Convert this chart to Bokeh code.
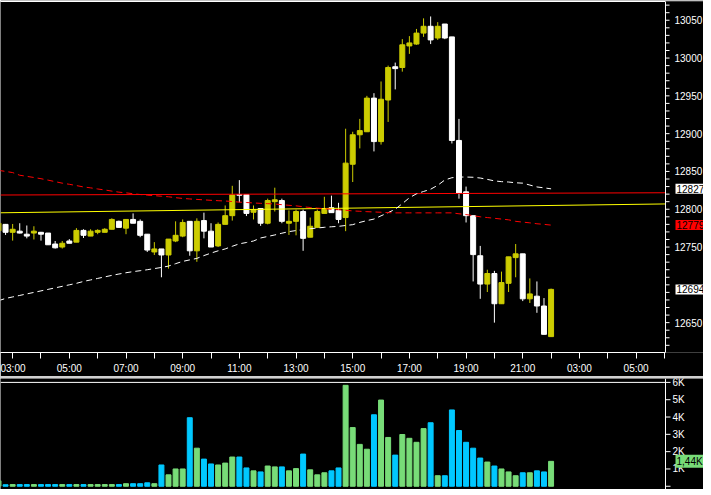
from bokeh.plotting import figure
from bokeh.layouts import column
from bokeh.models import Range1d, LinearAxis, FixedTicker, Label, Div, Span
from bokeh.core.properties import value
from bokeh.embed import file_html
from bokeh.resources import INLINE

# ---------------- data (15-minute bars, index 0 = 03:00) ----------------
bar_index = list(range(-2, 77))

opens = [12771.5, 12780.0, 12769.5, 12771.0, 12767.0, 12768.5, 12769.5, 12768.5, 12754.0, 12750.0,
         12758.0, 12756.5, 12772.0, 12764.5, 12769.5, 12769.5, 12773.5, 12784.0, 12775.0, 12786.5,
         12784.0, 12767.0, 12743.5, 12747.5, 12739.5, 12758.0, 12764.5, 12784.0, 12745.0, 12785.0,
         12771.0, 12751.5, 12780.0, 12791.5, 12819.5, 12819.5, 12796.0, 12801.0, 12781.5, 12810.0,
         12811.5, 12781.5, 12784.0, 12797.0, 12763.0, 12776.0, 12794.5, 12802.0, 12798.5, 12789.0,
         12859.5, 12898.5, 12902.5, 12947.0, 12889.5, 12944.5, 12988.5, 12987.5, 13016.0, 13018.5,
         13033.0, 13042.0, 13026.5, 13045.0, 13028.0, 12891.0, 12823.0, 12791.5, 12738.5, 12701.0,
         12715.0, 12675.0, 12702.0, 12736.0, 12741.0, 12681.5, 12685.0, 12672.0, 12631.5]

highs = [12783.0, 12780.5, 12780.5, 12781.5, 12778.5, 12777.5, 12770.0, 12768.5, 12758.0, 12758.0,
         12760.5, 12775.0, 12773.5, 12773.5, 12773.5, 12775.0, 12788.0, 12785.0, 12786.5, 12794.5,
         12786.5, 12767.0, 12756.5, 12747.5, 12760.5, 12784.0, 12786.5, 12784.0, 12788.0, 12795.5,
         12781.5, 12782.5, 12805.0, 12831.0, 12838.5, 12819.5, 12805.0, 12801.0, 12814.0, 12828.5,
         12814.0, 12798.5, 12799.5, 12799.5, 12789.0, 12799.5, 12816.5, 12818.0, 12808.5, 12906.5,
         12902.5, 12919.5, 12950.0, 12953.5, 12969.0, 12990.0, 12994.0, 13025.0, 13029.0, 13038.5,
         13052.5, 13055.0, 13047.5, 13045.0, 13028.0, 12919.5, 12830.0, 12791.5, 12751.5, 12720.0,
         12718.5, 12717.5, 12737.0, 12754.0, 12741.0, 12708.5, 12704.5, 12682.5, 12695.0]

lows = [12769.0, 12766.0, 12758.5, 12768.0, 12761.5, 12760.0, 12758.5, 12753.0, 12748.0, 12748.0,
        12755.0, 12756.5, 12762.0, 12764.5, 12767.0, 12769.5, 12773.5, 12776.0, 12767.0, 12781.5,
        12763.0, 12743.5, 12739.5, 12710.0, 12721.5, 12756.5, 12763.0, 12738.5, 12730.5, 12761.5,
        12750.0, 12750.0, 12780.0, 12785.0, 12809.0, 12791.0, 12786.5, 12778.0, 12780.0, 12797.0,
        12781.5, 12766.0, 12765.5, 12745.0, 12763.0, 12776.0, 12794.5, 12795.5, 12781.5, 12771.0,
        12836.0, 12880.5, 12902.5, 12876.5, 12885.5, 12915.5, 12958.5, 12982.0, 13005.5, 13017.5,
        13028.0, 13018.5, 13024.0, 13025.0, 12887.0, 12814.0, 12782.5, 12704.5, 12681.5, 12690.5,
        12650.0, 12675.0, 12690.5, 12710.0, 12678.5, 12676.0, 12663.0, 12634.5, 12631.5]

closes = [12781.5, 12769.5, 12773.5, 12768.5, 12764.5, 12771.0, 12767.0, 12753.0, 12749.0, 12755.0,
          12755.0, 12772.0, 12765.5, 12771.0, 12772.0, 12773.5, 12786.5, 12776.0, 12786.5, 12781.5,
          12765.5, 12746.0, 12747.5, 12739.5, 12760.5, 12765.5, 12782.5, 12745.0, 12784.0, 12771.0,
          12750.0, 12780.0, 12791.5, 12819.0, 12818.5, 12794.5, 12799.5, 12781.5, 12811.5, 12812.5,
          12784.0, 12784.0, 12797.0, 12761.5, 12777.5, 12797.0, 12801.0, 12795.5, 12786.5, 12861.0,
          12898.5, 12904.0, 12947.0, 12889.5, 12945.5, 12987.5, 12986.0, 13017.5, 13020.0, 13033.0,
          13042.0, 13024.0, 13042.0, 13026.5, 12891.0, 12821.5, 12791.5, 12740.0, 12701.0, 12715.0,
          12675.0, 12703.0, 12737.0, 12741.0, 12681.5, 12688.0, 12672.0, 12634.5, 12694.0]

volumes = [320, 90, 100, 100, 100, 100, 100, 100, 100, 100,
           100, 100, 100, 100, 100, 100, 100, 100, 150, 150,
           150, 200, 150, 1230, 660, 1000, 1000, 3960, 2200, 1570,
           1290, 1230, 1340, 1690, 1690, 1060, 890, 830, 1170, 1120,
           1120, 890, 1020, 1860, 950, 660, 780, 890, 1060, 5830,
           3390, 2420, 2140, 4130, 4980, 2820, 1800, 2990, 2770, 2540,
           3330, 3670, 610, 610, 4410, 3220, 2540, 2200, 1630, 1400,
           1170, 1000, 830, 610, 780, 780, 890, 830, 1440]

ma_white = [12679, 12682, 12684, 12686, 12688, 12690, 12692, 12694, 12696, 12698,
            12700, 12702, 12704.5, 12706.5, 12708.5, 12710.5, 12712.5, 12714.3, 12716, 12717.5,
            12718.7, 12720, 12721.5, 12723, 12724.8, 12728, 12731, 12733, 12735, 12738.7,
            12742, 12745, 12747.5, 12751, 12754.3, 12756, 12758, 12762, 12764, 12766,
            12768.3, 12770.4, 12771.8, 12773, 12774.2, 12775.2, 12776.1, 12776.8, 12777.4, 12778.5,
            12779.6, 12782.6, 12785, 12787, 12791.3, 12795.5, 12800, 12807.4, 12815.2, 12820.4,
            12823.5, 12826.5, 12831.7, 12838.7, 12841.7, 12842.6, 12842.6, 12842.3, 12841.3, 12839.5,
            12837.5, 12836.5, 12836, 12835, 12834.5, 12832, 12829.5, 12828.3, 12827]

ma_red = [12851.5, 12850, 12848.5, 12845, 12843.5, 12842, 12840.4, 12838.5, 12836.5, 12834.5,
          12833, 12831.3, 12829.5, 12828.3, 12826.8, 12825.5, 12824, 12822.6, 12821.7, 12820.5,
          12819.5, 12818.6, 12818, 12817.2, 12816.5, 12815.3, 12814.3, 12813.6, 12813, 12812.4,
          12811.8, 12811.3, 12810.9, 12810.2, 12809.4, 12808.9, 12808.3, 12807.8, 12807.4, 12807,
          12806, 12805.2, 12804.5, 12803.3, 12802.3, 12801.5, 12800.7, 12800, 12799.4, 12798.6,
          12797.8, 12797.3, 12796.8, 12796.4, 12796, 12795.5, 12795.2, 12795.2, 12795.2, 12795.2,
          12795.2, 12795.2, 12795.2, 12795.2, 12795.2, 12794, 12793, 12791.5, 12790, 12789,
          12788, 12787, 12786, 12784, 12783, 12782, 12780.8, 12780, 12779]

level_red = [12818.8, 12821.8]      # solid red line (left edge, right edge)
level_yellow = [12795.3, 12807.0]   # solid yellow line (left edge, right edge)

tick_positions = list(range(0, 93, 4))
tick_labels = ["03:00", "", "05:00", "", "07:00", "", "09:00", "", "11:00", "", "13:00", "",
               "15:00", "", "17:00", "", "19:00", "", "21:00", "", "03:00", "", "05:00", ""]

price_labels = [12650, 12700, 12750, 12800, 12850, 12900, 12950, 13000, 13050]
price_minor_step = 10

vol_ticks = [0, 1000, 2000, 3000, 4000, 5000, 6000]
vol_tick_labels = ["", "1K", "2K", "3K", "4K", "5K", "6K"]

# ---------------- styling ----------------
YELLOW = "#cccc00"
WHITE = "#ffffff"
GREEN = "#78dc78"
BLUE = "#00c8ff"
RED = "#ff0000"
FONT = "Liberation Sans"
FS = "10px"
TOTAL_W = 703
CHART_W = 665          # width of the plotting area left of the price scale

view_start = -1.715    # left edge of the visible bar area
axis_x = 92.15         # position of the price scale line (in bar units)
view_end = view_start + (axis_x - view_start) * TOTAL_W / CHART_W

up = [c > o for o, c in zip(opens, closes)]
candle_colors = [YELLOW if u else WHITE for u in up]
vol_colors = [GREEN if u else BLUE for u in up]
body_top = [max(o, c) for o, c in zip(opens, closes)]
body_bot = [min(o, c) for o, c in zip(opens, closes)]

x_range = Range1d(view_start, view_end)
price_range = Range1d(12610.5, 13074.8)
vol_range = Range1d(-186, 6225)

price_tags = [(ma_white[-1], WHITE), (ma_red[-1], RED), (closes[-1], WHITE)]


def scale_axis(fig, ticks, labels, tick_len, label_off):
    """Price/volume scale drawn at axis_x, to the right of the chart area."""
    fig.add_layout(Span(location=axis_x, dimension="height", line_color=WHITE, line_width=1))
    fig.ray(x=[axis_x] * len(ticks), y=ticks, length=tick_len, length_units="screen",
            angle=0, line_color=WHITE, line_width=1)
    shown = [(t, s) for t, s in zip(ticks, labels) if s]
    fig.text(x=[axis_x] * len(shown), y=[t for t, _ in shown], text=[s for _, s in shown],
             x_offset=label_off, text_align="left", text_baseline="middle",
             text_color=WHITE, text_font=value(FONT), text_font_size=value(FS))


def tag(fig, yval, text, bg):
    fig.add_layout(Label(x=axis_x, y=yval, x_offset=10, text=text,
                         text_color="black", text_font=FONT, text_font_size=FS,
                         text_baseline="middle", text_align="left",
                         background_fill_color=bg, padding=1))


# ---------------- price pane ----------------
p = figure(frame_width=TOTAL_W, frame_height=351, x_range=x_range, y_range=price_range,
           output_backend="svg", toolbar_location=None, y_axis_location=None,
           min_border_left=0, min_border_right=0, min_border_top=1, min_border_bottom=22,
           background_fill_color="black", border_fill_color="black", outline_line_color=None)
p.xgrid.visible = False
p.ygrid.visible = False

xax = p.xaxis[0]
xax.ticker = FixedTicker(ticks=tick_positions, minor_ticks=[])
xax.major_label_overrides = {t: s for t, s in zip(tick_positions, tick_labels)}
xax.bounds = (view_start, axis_x)
xax.axis_line_color = WHITE
xax.major_tick_line_color = WHITE
xax.major_tick_in = 0
xax.major_tick_out = 6
xax.major_label_standoff = 4
xax.major_label_text_color = WHITE
xax.major_label_text_font = FONT
xax.major_label_text_font_size = FS

p.add_layout(LinearAxis(ticker=FixedTicker(ticks=[]), bounds=(view_start, axis_x),
                        axis_line_color=WHITE, major_tick_line_color=None,
                        minor_tick_line_color=None, major_tick_out=0, major_tick_in=0,
                        major_label_text_font_size="0px"), "above")

p.segment(x0=bar_index, y0=lows, x1=bar_index, y1=highs, line_color=candle_colors, line_width=1)
p.vbar(x=bar_index, width=0.7, top=body_top, bottom=body_bot,
       fill_color=candle_colors, line_color=candle_colors, line_width=1)

p.line([view_start, axis_x], level_yellow, line_color="#ffff00", line_width=1)
p.line([view_start, axis_x], level_red, line_color=RED, line_width=1)
p.line(bar_index, ma_white, line_color=WHITE, line_width=1, line_dash="6 4")
p.line(bar_index, ma_red, line_color=RED, line_width=1, line_dash="6 4")

lo, hi = price_labels[0] - 30, price_labels[-1] + 20
price_ticks = list(range(lo, hi + 1, price_minor_step))


def price_text(t):
    # scale labels hidden behind a value tag are not drawn
    if t not in price_labels or any(abs(t - tv) < 9 for tv, _ in price_tags):
        return ""
    return str(t)


scale_axis(p, price_ticks, [price_text(t) for t in price_ticks], 4, 9)

for tv, bg in price_tags:
    tag(p, tv, f"{round(tv)}", bg)

# ---------------- separator ----------------
sep = Div(text="", width=TOTAL_W, height=2, margin=0,
          styles={"background-color": "#d0d0d0"})

# ---------------- volume pane ----------------
v = figure(frame_width=TOTAL_W, frame_height=111, x_range=x_range, y_range=vol_range,
           output_backend="svg", toolbar_location=None,
           y_axis_location=None, x_axis_location=None,
           min_border_left=0, min_border_right=0, min_border_top=0, min_border_bottom=0,
           background_fill_color="black", border_fill_color="black", outline_line_color=None)
v.xgrid.visible = False
v.ygrid.visible = False

v.segment(x0=[view_start], y0=[vol_ticks[-1]], x1=[axis_x], y1=[vol_ticks[-1]],
          line_color=WHITE, line_width=1)
v.vbar(x=bar_index, width=0.7, top=volumes, bottom=0,
       fill_color=vol_colors, line_color=vol_colors, line_width=1)
scale_axis(v, vol_ticks, vol_tick_labels, 5, 7)

vol_text = f"{volumes[-1] / 1000:.2f}".replace(".", ",") + "K"
tag(v, volumes[-1], vol_text, GREEN)

layout = column(p, sep, v, spacing=0)
open("out.html", "w").write(file_html(layout, INLINE))
